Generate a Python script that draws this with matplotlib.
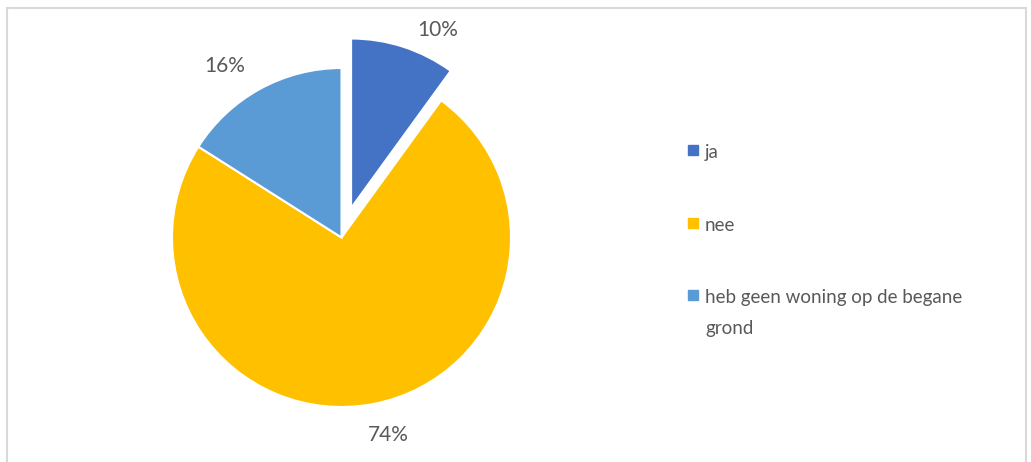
import matplotlib.pyplot as plt
from matplotlib.patches import Rectangle

labels = ['ja', 'nee', 'heb geen woning op de begane\ngrond']
shares = [10, 74, 16]
colors = ['#4472C4', '#FFC000', '#5B9BD5']
explode = [31, 0, 0]  # pie explode is in data units here (px)

plt.rcParams['font.family'] = ['Lato', 'DejaVu Sans']
txt = '#595959'

W, H = 1031, 462
fig = plt.figure(figsize=(W / 100, H / 100), dpi=100)
ax = fig.add_axes([0, 0, 1, 1])

wedges, texts, autotexts = ax.pie(
    shares, colors=colors, explode=explode, startangle=90, counterclock=False,
    center=(341.5, H - 237.5), radius=169.5, autopct='%d%%', pctdistance=1.2,
    wedgeprops=dict(edgecolor='white', linewidth=1.5),
    textprops=dict(color=txt, fontsize=15))
ax.set_xlim(0, W)
ax.set_ylim(0, H)
ax.set_aspect('equal')
ax.axis('off')

# label spots as Excel placed them
for t, (lx, ly) in zip(autotexts, [(438, 30), (388, 435), (225, 66)]):
    t.set_position((lx, H - ly))

# legend
rows = [150, 223, 295]
for w, lab, ry in zip(wedges, labels, rows):
    ax.plot([692.5], [H - ry], marker='s', markersize=6.5, color=w.get_facecolor(), linestyle='none')
    ax.text(705, H - ry + 6, lab, color=txt, fontsize=13.5, va='top', ha='left',
            linespacing=2.0)

fig.patches.append(Rectangle((7 / W, -0.05), 1019 / W, 1.05 - 8 / H, transform=fig.transFigure,
                             fill=False, edgecolor='#d9d9d9', linewidth=1.5))

fig.savefig('out.png', dpi=100)
